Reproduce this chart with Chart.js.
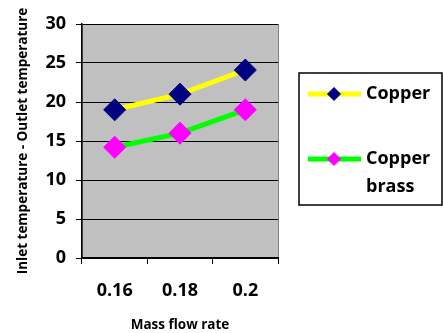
<!DOCTYPE html>
<html>
<head>
<meta charset="utf-8">
<script src="https://cdn.jsdelivr.net/npm/chart.js@4/dist/chart.umd.min.js"></script>
<style>
  html, body { margin: 0; padding: 0; background: #fff; }
  #wrap { width: 443px; height: 333px; }
</style>
</head>
<body>
<div id="wrap"><canvas id="linechart" width="443" height="333"></canvas></div>
<script>
const flowRates = ['0.16', '0.18', '0.2'];
const copper = [19.0, 21.0, 24.1];
const copperBrass = [14.2, 16.0, 19.0];
const seriesNames = ['Copper', 'Copper brass'];
const yTitle = 'Inlet temperature - Outlet temperature';
const xTitle = 'Mass flow rate';

const FONT = '"Open Sans", Lato, sans-serif';

// grey plot background with a darker frame
const plotBg = {
  id: 'plotBg',
  beforeDraw(chart) {
    const { ctx, chartArea: a } = chart;
    ctx.save();
    ctx.fillStyle = '#c0c0c0';
    ctx.fillRect(a.left, a.top, a.right - a.left, a.bottom - a.top);
    ctx.strokeStyle = '#808080';
    ctx.lineWidth = 1;
    ctx.strokeRect(a.left + 0.5, a.top + 0.5, a.right - a.left, a.bottom - a.top);
    ctx.restore();
  }
};

// excel-like legend box on the right
const boxLegend = {
  id: 'boxLegend',
  afterDraw(chart) {
    const ctx = chart.ctx;
    const x0 = 299, y0 = 73, w = 143, h = 132;
    ctx.save();
    ctx.strokeStyle = '#000';
    ctx.lineWidth = 1.5;
    ctx.strokeRect(x0, y0, w, h);
    const rows = [94, 159];
    const r = 6.5;
    chart.data.datasets.forEach((ds, i) => {
      const y = rows[i];
      ctx.strokeStyle = ds.borderColor;
      ctx.lineWidth = 5;
      ctx.beginPath();
      ctx.moveTo(308, y);
      ctx.lineTo(361, y);
      ctx.stroke();
      ctx.fillStyle = ds.pointBackgroundColor;
      ctx.strokeStyle = ds.pointBorderColor;
      ctx.lineWidth = 1;
      ctx.beginPath();
      ctx.moveTo(334 - r, y);
      ctx.lineTo(334, y - r);
      ctx.lineTo(334 + r, y);
      ctx.lineTo(334, y + r);
      ctx.closePath();
      ctx.fill();
      ctx.stroke();
      ctx.fillStyle = '#000';
      ctx.font = 'bold 18px ' + FONT;
      ctx.textBaseline = 'middle';
      ctx.textAlign = 'left';
      const words = ds.label.split(' ');
      words.forEach((wd, k) => ctx.fillText(wd, 366, y + k * 28));
    });
    ctx.restore();
  }
};

const ctx = document.getElementById('linechart').getContext('2d');
new Chart(ctx, {
  type: 'line',
  data: {
    labels: flowRates,
    datasets: [{
      label: seriesNames[0],
      data: copper,
      borderColor: '#ffff00',
      borderWidth: 5,
      pointStyle: 'rectRot',
      pointRadius: 11,
      pointBackgroundColor: '#000080',
      pointBorderColor: '#000080',
      pointBorderWidth: 1
    }, {
      label: seriesNames[1],
      data: copperBrass,
      borderColor: '#00ff00',
      borderWidth: 5,
      pointStyle: 'rectRot',
      pointRadius: 11,
      pointBackgroundColor: '#ff00ff',
      pointBorderColor: '#ff00ff',
      pointBorderWidth: 1
    }]
  },
  options: {
    responsive: false,
    animation: false,
    layout: { padding: { top: 24, right: 165, left: 0, bottom: 0 } },
    plugins: {
      legend: { display: false },
      tooltip: { enabled: false }
    },
    scales: {
      x: {
        offset: true,
        grid: { offset: true, drawOnChartArea: false, color: '#000', tickLength: 6 },
        border: { color: '#000', width: 1.5 },
        ticks: { color: '#000', padding: 16, font: { family: FONT, size: 18, weight: 'bold' } },
        title: {
          display: true, text: xTitle, color: '#000',
          font: { family: FONT, size: 13.5, weight: 'bold' },
          padding: { top: 15, bottom: 0 }
        },
        afterFit(scale) { scale.height = 75; }
      },
      y: {
        min: 0,
        max: 30,
        ticks: { stepSize: 5, color: '#000', padding: 10, font: { family: FONT, size: 18, weight: 'bold' } },
        grid: { color: '#000', lineWidth: 1, tickLength: 6 },
        border: { color: '#000', width: 1.5 },
        title: {
          display: true, text: yTitle, color: '#000',
          font: { family: FONT, size: 13.5, weight: 'bold' },
          padding: { top: 15, bottom: 0 }
        },
        afterFit(scale) { scale.width = 82; }
      }
    }
  },
  plugins: [plotBg, boxLegend]
});
</script>
</body>
</html>
